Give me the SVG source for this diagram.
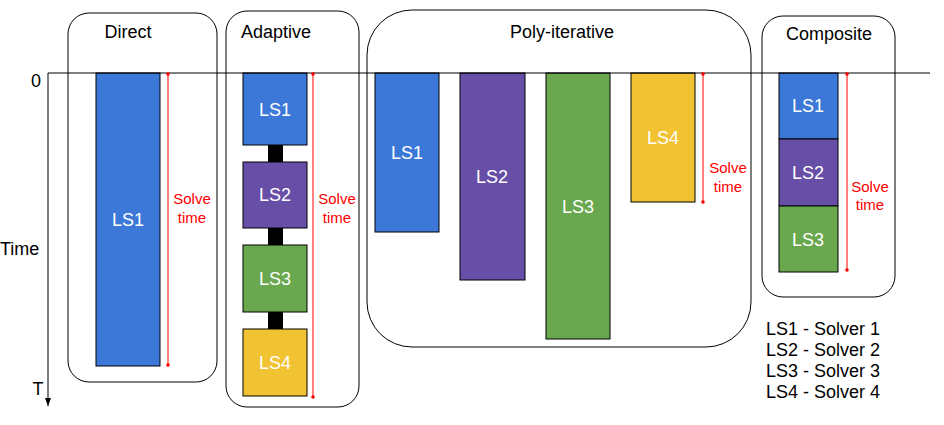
<svg xmlns="http://www.w3.org/2000/svg" width="944" height="425" viewBox="0 0 944 425">
<style>
text{font-family:"Liberation Sans",Arial,sans-serif}
.frame{fill:none;stroke:#000;stroke-width:1}
.title{font-size:18px;fill:#000;text-anchor:middle;dominant-baseline:central}
.blk{stroke:#000;stroke-width:1}
.lbl{font-size:18px;fill:#fff;text-anchor:middle;dominant-baseline:central}
.b{fill:#3c78d8}.p{fill:#674ea7}.g{fill:#6aa84f}.y{fill:#f1c232}
.st{stroke:#f00;stroke-width:1;fill:none;marker-start:url(#dot);marker-end:url(#dot)}
.sl{font-size:15px;fill:#f00;text-anchor:middle;dominant-baseline:central}
.ax{font-size:18px;fill:#000;dominant-baseline:central}
.leg{font-size:18px;fill:#000;dominant-baseline:central}
</style>
<defs>
<marker id="dot" viewBox="0 0 4 4" refX="2" refY="2" markerWidth="4" markerHeight="4" markerUnits="userSpaceOnUse"><circle cx="2" cy="2" r="1.8" fill="#f00"/></marker>
<marker id="arr" viewBox="0 0 8 6" refX="8" refY="3" markerWidth="8" markerHeight="6" markerUnits="userSpaceOnUse" orient="auto"><path d="M0,0 L8,3 L0,6 Z" fill="#000"/></marker>
</defs>
<rect width="944" height="425" fill="#fff"/>

<g id="direct">
<rect class="frame" x="68" y="13" width="149" height="369" rx="21"/>
<text class="title" x="128" y="32">Direct</text>
<rect class="blk b" x="96" y="73" width="64" height="293"/>
<text class="lbl" x="128" y="220">LS1</text>
</g>

<g id="adaptive">
<rect class="frame" x="226" y="11" width="133" height="396" rx="21"/>
<text class="title" x="276" y="32">Adaptive</text>
<rect x="268" y="145" width="15" height="17" fill="#000"/>
<rect x="268" y="228" width="15" height="17" fill="#000"/>
<rect x="268" y="312" width="15" height="17" fill="#000"/>
<rect class="blk b" x="243" y="73" width="64" height="72"/>
<text class="lbl" x="275" y="110">LS1</text>
<rect class="blk p" x="243" y="162" width="64" height="66"/>
<text class="lbl" x="275" y="195">LS2</text>
<rect class="blk g" x="243" y="245" width="64" height="67"/>
<text class="lbl" x="275" y="279">LS3</text>
<rect class="blk y" x="243" y="329" width="64" height="67"/>
<text class="lbl" x="275" y="363">LS4</text>
</g>

<g id="poly-iterative">
<rect class="frame" x="367" y="10" width="384" height="337" rx="45"/>
<text class="title" x="562" y="32">Poly-iterative</text>
<rect class="blk b" x="375" y="73" width="64" height="159"/>
<text class="lbl" x="407" y="153">LS1</text>
<rect class="blk p" x="460" y="73" width="65" height="207"/>
<text class="lbl" x="492" y="177">LS2</text>
<rect class="blk g" x="546" y="73" width="64" height="266"/>
<text class="lbl" x="578" y="207">LS3</text>
<rect class="blk y" x="631" y="73" width="64" height="129"/>
<text class="lbl" x="663" y="138">LS4</text>
</g>

<g id="composite">
<rect class="frame" x="762" y="16" width="133" height="281" rx="21"/>
<text class="title" x="829" y="34">Composite</text>
<rect class="blk b" x="779" y="73" width="59" height="66"/>
<text class="lbl" x="808" y="106">LS1</text>
<rect class="blk p" x="779" y="139" width="59" height="67"/>
<text class="lbl" x="808" y="173">LS2</text>
<rect class="blk g" x="779" y="206" width="59" height="66"/>
<text class="lbl" x="808" y="240">LS3</text>
</g>

<g id="connectors">
<line x1="48" y1="73" x2="930" y2="73" stroke="#000" stroke-width="1"/>
<line x1="48" y1="73" x2="48" y2="406" stroke="#000" stroke-width="1" marker-end="url(#arr)"/>
<line class="st" x1="168" y1="74" x2="168" y2="365"/>
<line class="st" x1="313" y1="74" x2="313" y2="397"/>
<line class="st" x1="703" y1="74" x2="703" y2="202"/>
<line class="st" x1="847" y1="74" x2="847" y2="270"/>
</g>

<g id="solve-labels">
<text class="sl" x="192" y="198">Solve</text>
<text class="sl" x="192" y="217">time</text>
<text class="sl" x="337" y="198">Solve</text>
<text class="sl" x="337" y="217">time</text>
<text class="sl" x="728" y="167">Solve</text>
<text class="sl" x="728" y="186">time</text>
<text class="sl" x="870" y="186">Solve</text>
<text class="sl" x="870" y="204">time</text>
</g>

<g id="axis-labels">
<text class="ax" x="36" y="81" text-anchor="middle">0</text>
<text class="ax" x="0" y="249">Time</text>
<text class="ax" x="38" y="389" text-anchor="middle">T</text>
</g>

<g id="legend">
<text class="leg" x="766" y="329">LS1 - Solver 1</text>
<text class="leg" x="766" y="350">LS2 - Solver 2</text>
<text class="leg" x="766" y="371">LS3 - Solver 3</text>
<text class="leg" x="766" y="392">LS4 - Solver 4</text>
</g>
</svg>
